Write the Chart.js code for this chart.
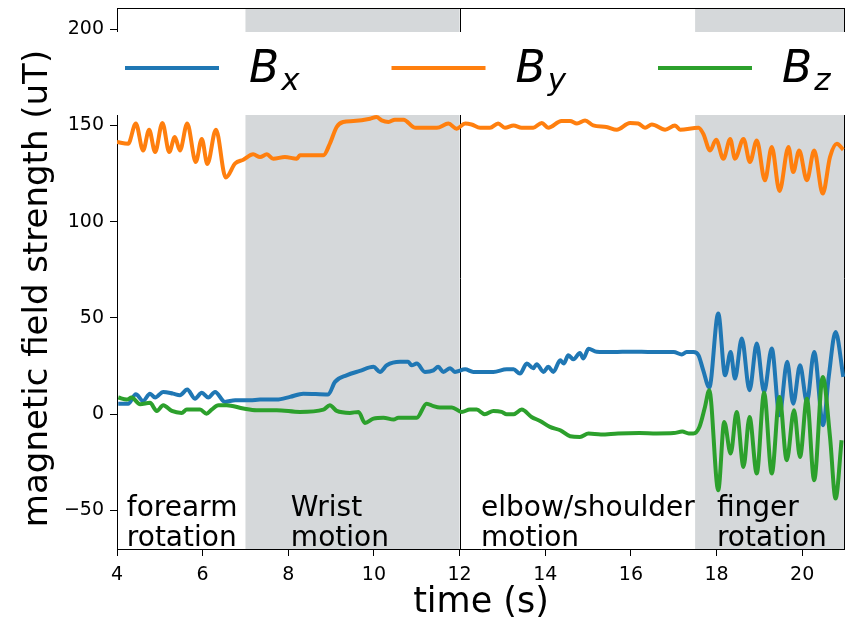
<!DOCTYPE html>
<html lang="en">
<head>
<meta charset="UTF-8" />
<title>Magnetic field strength vs time</title>
<script src="https://cdn.jsdelivr.net/npm/chart.js"></script>
<style>
  html, body { margin: 0; padding: 0; background: #fff; }
  #wrap { width: 845px; height: 626px; }
</style>
</head>
<body>
<div id="wrap"><canvas id="fieldChart" width="845" height="626"></canvas></div>
<script>
// --- data (time in s, field in uT) ---
const bxTime = [4.03, 4.26, 4.44, 4.61, 4.77, 4.89, 5.08, 5.31, 5.47, 5.64, 5.82, 5.98, 6.13, 6.29, 6.52, 6.76, 7.11, 7.34, 7.73, 8.04, 8.35, 8.93, 9.09, 9.36, 9.67, 9.99, 10.14, 10.3, 10.61, 10.8, 10.88, 11.0, 11.19, 11.39, 11.5, 11.62, 11.78, 11.89, 12.13, 12.32, 12.79, 13.1, 13.26, 13.41, 13.57, 13.72, 13.8, 13.96, 14.07, 14.19, 14.35, 14.43, 14.54, 14.66, 14.81, 14.89, 15.01, 15.2, 15.6, 16.0, 16.5, 17.0, 17.19, 17.3, 17.46, 17.58, 17.69, 17.83, 18.04, 18.2, 18.33, 18.43, 18.59, 18.77, 18.94, 19.11, 19.29, 19.47, 19.65, 19.79, 19.95, 20.11, 20.28, 20.49, 20.62, 20.78, 20.96];
const bxValues = [5.5, 5.5, 10.4, 6.9, 10.7, 8.7, 11.6, 10.7, 9.9, 12.8, 8.1, 11.1, 8.7, 11.6, 6.4, 7.3, 7.3, 7.6, 7.6, 9, 10.7, 10.2, 16.8, 20.2, 22.5, 24.6, 22, 25.4, 27.2, 27.2, 25.4, 26.3, 22, 22.8, 24.6, 22, 23.9, 22, 23.3, 22, 22, 23.3, 23.3, 21.1, 26.3, 23.9, 26, 22, 24.6, 22, 28, 26.3, 30.6, 28.5, 31.8, 29, 34, 32.5, 32.3, 32.5, 32.3, 32.3, 31, 32.3, 32.3, 30.6, 22.8, 13.9, 52.3, 20.2, 32.3, 18.5, 39.3, 12.5, 36.7, 11.6, 34.1, -0.5, 27.2, 5.5, 25.4, 6.4, 32.3, -5.7, 19.4, 42.7, 19.4];

const byTime = [4.0, 4.26, 4.44, 4.61, 4.75, 4.89, 5.06, 5.22, 5.35, 5.47, 5.64, 5.84, 5.98, 6.11, 6.31, 6.54, 6.76, 6.95, 7.18, 7.34, 7.5, 7.65, 7.92, 8.2, 8.27, 8.82, 8.97, 9.13, 9.28, 9.52, 9.91, 10.06, 10.18, 10.34, 10.49, 10.69, 10.96, 11.47, 11.74, 11.93, 12.13, 12.28, 12.48, 12.71, 12.9, 13.06, 13.26, 13.45, 13.72, 13.92, 14.07, 14.38, 14.58, 14.74, 14.93, 15.12, 15.43, 15.67, 15.98, 16.17, 16.33, 16.49, 16.8, 17.03, 17.15, 17.58, 17.69, 17.85, 17.99, 18.16, 18.32, 18.43, 18.63, 18.78, 18.94, 19.13, 19.29, 19.47, 19.68, 19.79, 19.93, 20.11, 20.28, 20.48, 20.65, 20.81, 20.96];
const byValues = [141.4, 140.5, 151, 137, 147.8, 136.2, 151.3, 136.2, 144, 137, 151, 131, 143, 130, 147.8, 122.9, 130.3, 132.2, 135, 133.6, 135, 132.7, 133.6, 132.7, 134.5, 134.5, 140.5, 149.2, 151.8, 152.3, 153.5, 154.4, 152.6, 151.8, 153, 153, 148.8, 148.8, 151, 148.3, 151, 150.5, 148.8, 148.8, 151, 148.8, 150, 148.8, 148.8, 151.3, 148.8, 152.3, 152.3, 151, 152.6, 150, 149.2, 147.8, 151.3, 151, 148.8, 150.5, 147.8, 150, 147.8, 148.8, 145.7, 137, 142.6, 132.7, 143, 132.7, 143, 131, 142.2, 121.5, 138.8, 116, 138.8, 125.8, 137, 121.5, 137, 114.6, 133.6, 140.5, 137.4];

const bzTime = [4.03, 4.23, 4.34, 4.54, 4.77, 4.93, 5.08, 5.28, 5.51, 5.63, 5.94, 6.09, 6.21, 6.37, 6.56, 6.95, 7.26, 7.73, 8.27, 8.82, 8.97, 9.13, 9.44, 9.64, 9.79, 9.99, 10.22, 10.46, 10.57, 11.0, 11.23, 11.39, 11.54, 11.82, 12.05, 12.24, 12.4, 12.59, 12.79, 12.98, 13.1, 13.26, 13.45, 13.68, 13.88, 14.11, 14.35, 14.58, 14.81, 15.01, 15.3, 15.7, 16.2, 16.6, 17.0, 17.2, 17.35, 17.46, 17.6, 17.73, 17.83, 18.04, 18.18, 18.33, 18.47, 18.63, 18.77, 18.94, 19.11, 19.29, 19.47, 19.64, 19.81, 19.95, 20.11, 20.28, 20.48, 20.65, 20.78, 20.92];
const bzValues = [8.7, 7.6, 8.7, 5.2, 5.9, 1.7, 4.7, 1.7, 0.7, 2.4, 2.4, 0.3, 2.4, 4.7, 4.7, 3, 2.1, 2.1, 1.2, 2.4, 4.7, 1.7, 0.7, 1.2, -4.5, -2.3, -1.8, -2.8, -1.8, -1.8, 5.5, 4.2, 3.5, 3.5, 1.2, 2.4, 2.4, 0, 1.7, 1.2, 0, 0, 2.4, -1.4, -3.5, -6.6, -8.3, -11.4, -11.8, -10, -10.5, -10, -9.8, -10, -9.8, -9, -10, -10, -6.6, 3.8, 12.5, -39.5, -4, -20.4, 1.2, -27.4, -1.4, -30.8, 11.1, -30.8, 9, -23.9, 2.1, -22.2, 8.1, -34.3, 19.4, -11.8, -43.8, -13.5];

const seriesNames = ['x', 'y', 'z'];
const seriesColors = ['#1f77b4', '#ff7f0e', '#2ca02c'];
const xTicks = [4, 6, 8, 10, 12, 14, 16, 18, 20];
const yTicks = [-50, 0, 50, 100, 150, 200];
const shadedSpans = [[7, 12], [17.5, 21]];
const dividerAt = 12;
const phaseLabels = [['forearm', 'rotation'], ['Wrist', 'motion'], ['elbow/shoulder', 'motion'], ['finger', 'rotation']];
const phaseLabelAt = [4.23, 8.06, 12.5, 18.01];

const FONT = '"DejaVu Sans", sans-serif';
const toPoints = (ts, vs) => ts.map((t, i) => ({ x: t, y: vs[i] }));

const decorations = {
    id: 'decorations',
    beforeDraw(chart) {
        const { ctx, chartArea: a, scales: { x } } = chart;
        ctx.save();
        ctx.fillStyle = '#fff';
        ctx.fillRect(0, 0, chart.width, chart.height);
        ctx.fillStyle = '#d5d8da';
        shadedSpans.forEach(([s, e]) => {
            const x0 = x.getPixelForValue(s), x1 = x.getPixelForValue(e);
            ctx.fillRect(x0, a.top, x1 - x0, a.bottom - a.top);
        });
        ctx.strokeStyle = '#000';
        ctx.lineWidth = 1;
        const xd = Math.round(x.getPixelForValue(dividerAt)) + 0.5;
        ctx.beginPath();
        ctx.moveTo(xd, a.top); ctx.lineTo(xd, a.bottom);
        ctx.moveTo(a.left, a.top + 0.5); ctx.lineTo(a.right, a.top + 0.5);
        ctx.moveTo(a.right - 0.5, a.top); ctx.lineTo(a.right - 0.5, a.bottom);
        ctx.stroke();
        ctx.restore();
    },
    beforeDatasetsDraw(chart) {
        // white legend box sits on top of shading and spines
        const { ctx, chartArea: a } = chart;
        ctx.save();
        ctx.fillStyle = '#fff';
        ctx.fillRect(a.left - 3, a.top + 24, a.right - a.left + 6, 83);
        ctx.restore();
    },
    afterDraw(chart) {
        const { ctx, chartArea: a, scales: { x } } = chart;
        ctx.save();
        // legend
        seriesNames.forEach((name, i) => {
            const lx = a.left + 8 + i * 266.5;
            const ly = a.top + 60;
            ctx.strokeStyle = seriesColors[i];
            ctx.lineWidth = 4;
            ctx.beginPath();
            ctx.moveTo(lx, ly); ctx.lineTo(lx + 94, ly);
            ctx.stroke();
            ctx.fillStyle = '#000';
            ctx.textBaseline = 'alphabetic';
            ctx.textAlign = 'left';
            ctx.font = 'italic 44px ' + FONT;
            const tx = lx + 124;
            ctx.fillText('B', tx, a.top + 74);
            const bw = ctx.measureText('B').width;
            ctx.font = 'italic 31px ' + FONT;
            ctx.fillText(name, tx + bw + 2, a.top + 82);
        });
        // phase annotations
        ctx.font = '28px ' + FONT;
        ctx.fillStyle = '#000';
        phaseLabels.forEach((lines, i) => {
            const px = x.getPixelForValue(phaseLabelAt[i]);
            ctx.fillText(lines[0], px, a.bottom - 33);
            ctx.fillText(lines[1], px, a.bottom - 3);
        });
        // y axis title
        ctx.translate(38, (a.top + a.bottom) / 2 + 10);
        ctx.rotate(-Math.PI / 2);
        ctx.textAlign = 'center';
        ctx.textBaseline = 'middle';
        ctx.font = '34px ' + FONT;
        ctx.fillText('magnetic field strength (uT)', 0, 0);
        ctx.restore();
    }
};

const axisGrid = { display: true, drawOnChartArea: false, drawTicks: true, tickLength: 7, color: '#000', tickColor: '#000' };
const axisBorder = { display: true, color: '#000', width: 1 };

new Chart(document.getElementById('fieldChart').getContext('2d'), {
    type: 'line',
    data: {
        datasets: [
            { label: 'Bx', data: toPoints(bxTime, bxValues), borderColor: seriesColors[0], order: 2 },
            { label: 'By', data: toPoints(byTime, byValues), borderColor: seriesColors[1], order: 1 },
            { label: 'Bz', data: toPoints(bzTime, bzValues), borderColor: seriesColors[2], order: 0 }
        ]
    },
    options: {
        responsive: false,
        animation: false,
        devicePixelRatio: 1,
        layout: { padding: { top: 8, right: 0, left: 0, bottom: 0 } },
        elements: {
            line: { borderWidth: 4, cubicInterpolationMode: 'monotone', fill: false },
            point: { radius: 0, hoverRadius: 0 }
        },
        plugins: { legend: { display: false }, tooltip: { enabled: false } },
        scales: {
            x: {
                type: 'linear',
                min: 4,
                max: 21,
                afterBuildTicks: s => { s.ticks = xTicks.map(v => ({ value: v })); },
                afterFit: s => { s.height = 77; s.paddingLeft = 0; s.paddingRight = 0; },
                ticks: { color: '#000', font: { family: FONT, size: 19 }, padding: 8, maxRotation: 0, autoSkip: false },
                grid: axisGrid,
                border: axisBorder,
                title: { display: true, text: 'time (s)', color: '#000', font: { family: FONT, size: 35, lineHeight: 1 }, padding: { top: 0, bottom: 6 } }
            },
            y: {
                type: 'linear',
                min: -70,
                max: 211,
                afterBuildTicks: s => { s.ticks = yTicks.map(v => ({ value: v })); },
                afterFit: s => { s.width = 117; s.paddingTop = 0; s.paddingBottom = 0; },
                ticks: {
                    color: '#000', font: { family: FONT, size: 19 }, padding: 6,
                    callback: v => String(v).replace('-', '\u2212')
                },
                grid: axisGrid,
                border: axisBorder
            }
        }
    },
    plugins: [decorations]
});
</script>
</body>
</html>
